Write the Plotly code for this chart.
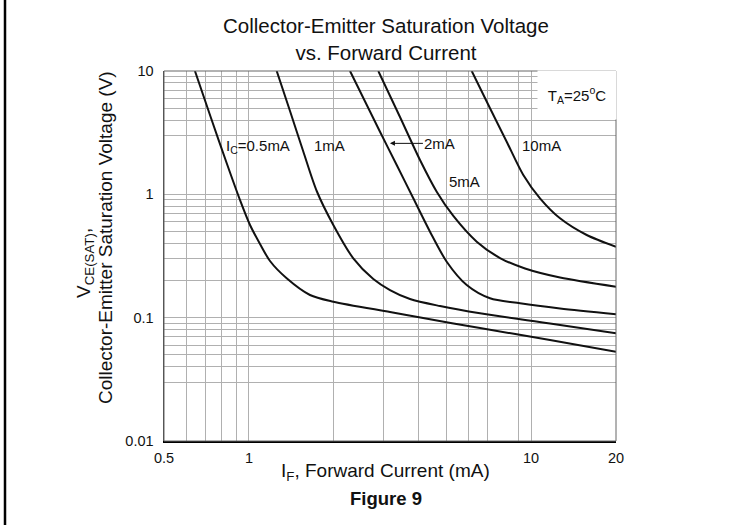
import numpy as np
import plotly.graph_objects as go

# ---- data (IF in mA, VCE(SAT) in V) ----
if_05 = [0.6437, 0.7338, 0.8361, 0.9297, 1.0088, 1.0946, 1.1876, 1.3607, 1.646, 1.991,
         3.1623, 4.0066, 6.592, 11.67, 20]
v_05 = [10, 4.157, 1.762, 0.8996, 0.5642, 0.3958, 0.288, 0.2086, 0.1527, 0.1348,
        0.1112, 0.1007, 0.0824, 0.0659, 0.053]
if_1 = [1.2544, 1.3982, 1.5583, 1.7388, 1.991, 2.3437, 2.7594, 3.1623, 3.7231, 4.756,
        6.592, 11.67, 20]
v_1 = [10, 4.74, 2.2252, 1.0642, 0.5642, 0.3029, 0.2059, 0.1676, 0.1417, 0.1243,
       0.1085, 0.0897, 0.0747]
if_2 = [2.2818, 2.9145, 3.3399, 3.8243, 4.3834, 5.0231, 5.9148, 7.1527, 9.1392, 12.666, 20]
v_2 = [10, 3.2206, 1.7294, 0.9287, 0.4978, 0.2843, 0.184, 0.1436, 0.1308, 0.1187, 0.1065]
if_5 = [2.8744, 3.4309, 4.0395, 4.6296, 5.3017, 6.4175, 7.7607, 9.5172, 12.666, 20]
v_5 = [10, 4.2367, 1.8984, 1.0504, 0.6674, 0.4131, 0.3046, 0.2504, 0.2116, 0.1782]
if_10 = [6.161, 7.1527, 8.1968, 9.3859, 10.756, 12.666, 15.745, 20]
v_10 = [10, 4.9843, 2.6714, 1.4351, 0.9287, 0.6393, 0.4681, 0.3761]

# grid / tick positions
x_grid = [0.5, 0.6, 0.7, 0.8, 0.9, 1, 2, 3, 4, 5, 6, 7, 9, 10, 20]
x_labels = {0.5: "0.5", 1: "1", 10: "10", 20: "20"}
y_grid = [0.01, 0.03, 0.04, 0.05, 0.06, 0.07, 0.08, 0.09, 0.1,
          0.2, 0.3, 0.4, 0.5, 0.6, 0.7, 0.8, 0.9, 1,
          3, 4, 5, 6, 7, 8, 9, 10]
y_labels = {0.01: "0.01", 0.1: "0.1", 1: "1", 10: "10"}

FONT = "Liberation Sans, Arial, sans-serif"
INK = "#111111"

fig = go.Figure()
for xs, ys, name in [(if_05, v_05, "0.5mA"), (if_1, v_1, "1mA"), (if_2, v_2, "2mA"),
                     (if_5, v_5, "5mA"), (if_10, v_10, "10mA")]:
    fig.add_trace(go.Scatter(x=xs, y=ys, mode="lines", name=name,
                             line=dict(color=INK, width=2, shape="spline", smoothing=0.8),
                             showlegend=False, hoverinfo="skip"))


def L(v):
    return float(np.log10(v))


def px_x(p):
    return (p - 164) / 452


def px_y(p):
    return (441 - p) / 370


def f(size):
    return dict(size=size, color=INK, family=FONT)


ann = []
# curve labels (data coordinates; log axes take log10 values)
ann.append(dict(x=L(1.08), y=L(2.45), xref="x", yref="y", text="I<sub>C</sub>=0.5mA",
                xanchor="center", yanchor="middle", showarrow=False, font=f(15)))
ann.append(dict(x=L(1.925), y=L(2.51), xref="x", yref="y", text="1mA",
                xanchor="center", yanchor="middle", showarrow=False, font=f(15)))
ann.append(dict(x=L(3.16), y=L(2.59), xref="x", yref="y", text="2mA",
                xanchor="center", yanchor="middle",
                showarrow=True, ax=50, ay=0, arrowhead=2, arrowsize=1, arrowwidth=1,
                arrowcolor=INK, standoff=0, font=f(15)))
ann.append(dict(x=L(5.79), y=L(1.266), xref="x", yref="y", text="5mA",
                xanchor="center", yanchor="middle", showarrow=False, font=f(15)))
ann.append(dict(x=L(10.9), y=L(2.51), xref="x", yref="y", text="10mA",
                xanchor="center", yanchor="middle", showarrow=False, font=f(15)))
# temperature box (white background hides the grid behind it)
ann.append(dict(x=px_x(576.5), y=px_y(95), xref="paper", yref="paper",
                xanchor="center", yanchor="middle",
                text="T<sub>A</sub>=25<sup>o</sup>C", showarrow=False,
                width=76, height=46, bgcolor="white", font=f(15)))
# title
ann.append(dict(x=px_x(386), y=px_y(39), xref="paper", yref="paper",
                xanchor="center", yanchor="middle",
                text="Collector-Emitter Saturation Voltage<br>vs. Forward Current",
                showarrow=False, font=f(20.5)))
# y axis title (two lines)
ann.append(dict(x=px_x(85), y=px_y(263), xref="paper", yref="paper",
                xanchor="center", yanchor="middle",
                text="V<sub>CE(SAT)</sub>,", textangle=-90, showarrow=False, font=f(19)))
ann.append(dict(x=px_x(105), y=px_y(238), xref="paper", yref="paper",
                xanchor="center", yanchor="middle",
                text="Collector-Emitter Saturation Voltage (V)", textangle=-90,
                showarrow=False, font=f(19)))
# x axis title and figure caption
ann.append(dict(x=px_x(385), y=px_y(472), xref="paper", yref="paper",
                xanchor="center", yanchor="middle",
                text="I<sub>F</sub>, Forward Current (mA)", showarrow=False, font=f(19)))
ann.append(dict(x=px_x(385.5), y=px_y(498), xref="paper", yref="paper",
                xanchor="center", yanchor="middle",
                text="<b>Figure 9</b>", showarrow=False, font=f(18.5)))

shapes = [
    dict(type="rect", xref="paper", yref="paper", x0=0, y0=0, x1=1, y1=1,
         line=dict(color="#666", width=1), layer="above"),
    dict(type="line", xref="paper", yref="paper", x0=px_x(5), x1=px_x(5),
         y0=px_y(525), y1=px_y(0), line=dict(color="black", width=2.5)),
]

fig.update_layout(
    width=735, height=525,
    margin=dict(l=164, r=119, t=71, b=84),
    paper_bgcolor="white", plot_bgcolor="white",
    font=dict(family=FONT, color=INK),
    annotations=ann, shapes=shapes,
    showlegend=False,
)
fig.update_xaxes(type="log", range=[L(0.5), L(20)],
                 tickvals=x_grid, ticktext=[x_labels.get(v, "") for v in x_grid],
                 showgrid=True, gridcolor="#b0b0b0", gridwidth=1,
                 showline=True, linecolor="black", linewidth=2,
                 ticks="", ticklabelstandoff=3, zeroline=False,
                 tickfont=dict(size=14.5, color=INK, family=FONT))
fig.update_yaxes(type="log", range=[-2, 1],
                 tickvals=y_grid, ticktext=[y_labels.get(v, "") for v in y_grid],
                 showgrid=True, gridcolor="#b0b0b0", gridwidth=1,
                 showline=True, linecolor="#444", linewidth=1.5,
                 ticks="", ticklabelstandoff=6, zeroline=False,
                 tickfont=dict(size=14.5, color=INK, family=FONT))

fig.write_html("out.html",
               config={"displayModeBar": False, "staticPlot": True},
               post_script="document.body.style.margin='0';document.body.style.overflow='hidden';")
